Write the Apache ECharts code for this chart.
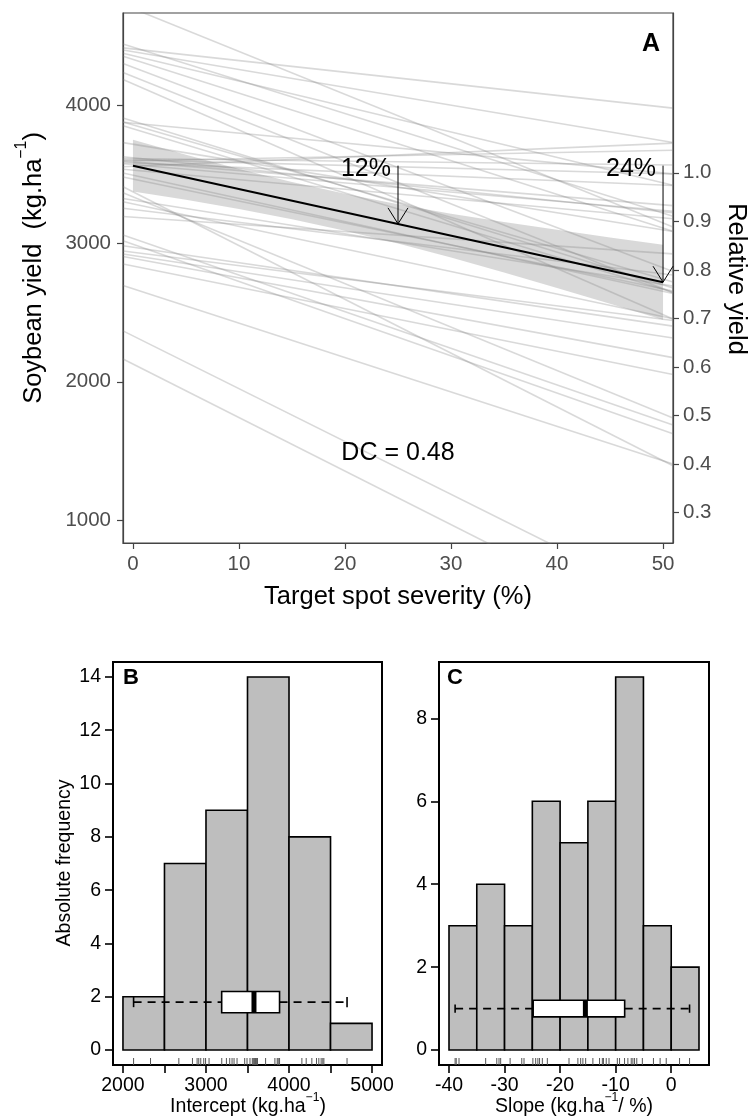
<!DOCTYPE html>
<html><head><meta charset="utf-8">
<script src="https://cdn.jsdelivr.net/npm/echarts@6/dist/echarts.min.js"></script>
<style>html,body{margin:0;padding:0;background:#fff}#c{width:749px;height:1117px}</style>
</head><body><div id="c"></div>
<script>
// ---------- DATA ----------
// Individual study regressions (intercept kg/ha at 0% severity, slope kg/ha per %)
const lineIntercepts = [2128,2332,2673,2837,2893,2913,2937,2973,2995,3037,3190,3246,3286,3314,3338,3374,3466,3494,3530,3558,3570,3582,3590,3598,3605,3614,3620,3718,3830,3858,3870,3886,4155,4207,4275,4331,4359,4387,4407,4420,4699];
const lineSlopes     = [-38.7,-38.2,-24.9,-15.4,-14.1,-11.7,-9.7,-11.2,-26.9,-26.5,-5.2,-9.3,-16.3,-12.2,-31.4,-38.9,-15.9,-16.8,-6.9,3.3,-6.6,-3.2,-6.2,1.5,-2.0,-0.9,-7.8,-12.4,-23.2,-22.3,-7.2,-23.7,-33.4,-30.7,-29.0,-24.4,-18.4,-12.9,-8.4,-24.0,-31.0];
// Mean (population) line and its confidence band
const meanX = [0, 50];
const meanY = [3563, 2720];
const bandX     = [0,5,10,15,20,25,30,35,40,45,50];
const bandLower = [3376,3316,3250,3176,3093,3000,2898,2791,2679,2565,2449];
const bandUpper = [3750,3642,3539,3444,3359,3284,3216,3155,3099,3043,2991];
// Arrows for yield loss
const arrowX = [25, 50];
const arrowFrom = [3563, 3563];
const arrowTo = [3142, 2720];
const arrowLabels = ['12%', '24%'];
const relativeBase = 3511; // yield that corresponds to relative yield 1.0
// Axis ticks
const xTicksA = [0,10,20,30,40,50];
const yTicksA = [1000,2000,3000,4000];
const yTicksRel = [0.3,0.4,0.5,0.6,0.7,0.8,0.9,1.0];
// Histogram B (intercept)
const histBEdges = [2000,2500,3000,3500,4000,4500,5000];
const histBCounts = [2,7,9,14,8,1];
const boxB = [2128, 3189, 3578, 3886, 4699]; // min, q1, median, q3, max
const xTicksB = [2000,2500,3000,3500,4000,4500,5000];
const xLabelsB = [2000,3000,4000,5000];
const yTicksB = [0,2,4,6,8,10,12,14];
// Histogram C (slope)
const histCEdges = [-40,-35,-30,-25,-20,-15,-10,-5,0,5];
const histCCounts = [3,4,3,6,5,6,9,3,2];
const boxC = [-38.9, -24.85, -15.45, -8.38, 3.3];
const xTicksC = [-40,-30,-20,-10,0];
const yTicksC = [0,2,4,6,8];

// ---------- CHART ----------
const FONT = 'Liberation Sans';
const X_MIN = -0.94, X_MAX = 50.94, Y_MIN = 834, Y_MAX = 4667;
const chart = echarts.init(document.getElementById('c'), null, {renderer:'canvas'});
const plain = function(v){ return String(Math.round(v)); };

const series = [];
// confidence band
series.push({
  type:'custom', xAxisIndex:0, yAxisIndex:0, clip:true, silent:true, z:1,
  data:[[0,0]],
  renderItem:function(params, api){
    const pts = [];
    for (let i=0;i<bandX.length;i++) pts.push(api.coord([bandX[i], bandUpper[i]]));
    for (let i=bandX.length-1;i>=0;i--) pts.push(api.coord([bandX[i], bandLower[i]]));
    return {type:'polygon', shape:{points:pts}, style:{fill:'rgba(130,130,130,0.30)', stroke:null}};
  }
});
// individual lines
lineIntercepts.forEach(function(b0, i){
  const b1 = lineSlopes[i];
  series.push({
    type:'line', xAxisIndex:0, yAxisIndex:0, silent:true, showSymbol:false, symbol:'none', z:2,
    lineStyle:{color:'rgba(130,130,130,0.30)', width:1.6},
    data:[[X_MIN, b0 + b1*X_MIN],[X_MAX, b0 + b1*X_MAX]],
    animation:false
  });
});
// mean line
series.push({
  type:'line', xAxisIndex:0, yAxisIndex:0, silent:true, showSymbol:false, symbol:'none', z:5,
  lineStyle:{color:'#000', width:2},
  data: meanX.map(function(x,i){return [x, meanY[i]];})
});
// arrows
series.push({
  type:'custom', xAxisIndex:0, yAxisIndex:0, clip:false, silent:true, z:6,
  data: arrowX.map(function(x,i){return [x, arrowFrom[i], arrowTo[i]];}),
  renderItem:function(params, api){
    const idx = params.dataIndex;
    const p0 = api.coord([api.value(0), api.value(1)]);
    const p1 = api.coord([api.value(0), api.value(2)]);
    return {type:'group', children:[
      {type:'line', shape:{x1:p0[0], y1:p0[1], x2:p1[0], y2:p1[1]}, style:{stroke:'#000', lineWidth:1}},
      {type:'polyline', shape:{points:[[p1[0]-10,p1[1]-16],[p1[0],p1[1]],[p1[0]+10,p1[1]-16]]}, style:{stroke:'#000', lineWidth:1, fill:null}},
      {type:'text', style:{text:arrowLabels[idx], x:p0[0]-7, y:p0[1]+3, align:'right', verticalAlign:'middle', fontSize:25, fontFamily:FONT, fill:'#000'}}
    ]};
  }
});

function histSeries(xi, yi, edges, counts){
  return {
    type:'custom', xAxisIndex:xi, yAxisIndex:yi, clip:false, silent:true, z:2,
    data: counts.map(function(c,i){return [edges[i], edges[i+1], c];}),
    encode:{x:[0,1], y:2},
    renderItem:function(params, api){
      const p0 = api.coord([api.value(0), 0]);
      const p1 = api.coord([api.value(1), api.value(2)]);
      return {type:'rect', shape:{x:p0[0], y:p1[1], width:p1[0]-p0[0], height:p0[1]-p1[1]},
        style:{fill:'#BEBEBE', stroke:'#000', lineWidth:1.6}};
    }
  };
}
function rugSeries(xi, yi, values){
  return {
    type:'custom', xAxisIndex:xi, yAxisIndex:yi, clip:false, silent:true, z:3,
    data: values.map(function(v){return [v, 0];}),
    renderItem:function(params, api){
      const p = api.coord([api.value(0), 0]);
      const bottom = params.coordSys.y + params.coordSys.height;
      return {type:'line', shape:{x1:p[0], y1:bottom, x2:p[0], y2:bottom-7}, style:{stroke:'#555', lineWidth:1}};
    }
  };
}
function boxSeries(xi, yi, stats, yc, halfH, capH){
  return {
    type:'custom', xAxisIndex:xi, yAxisIndex:yi, clip:false, silent:true, z:4,
    data:[stats],
    renderItem:function(params, api){
      const s = [0,1,2,3,4].map(function(k){return api.value(k);});
      const pMin = api.coord([s[0], yc]), pQ1 = api.coord([s[1], yc]), pMed = api.coord([s[2], yc]);
      const pQ3 = api.coord([s[3], yc]), pMax = api.coord([s[4], yc]);
      const top = api.coord([s[1], yc+halfH])[1], bot = api.coord([s[1], yc-halfH])[1];
      const cTop = api.coord([s[0], yc+capH])[1], cBot = api.coord([s[0], yc-capH])[1];
      const y = pMin[1];
      const ls = {stroke:'#000', lineWidth:1.6};
      return {type:'group', children:[
        {type:'line', shape:{x1:pMin[0], y1:y, x2:pQ1[0], y2:y}, style:{stroke:'#000', lineWidth:1.6, lineDash:[8,6]}},
        {type:'line', shape:{x1:pQ3[0], y1:y, x2:pMax[0], y2:y}, style:{stroke:'#000', lineWidth:1.6, lineDash:[8,6]}},
        {type:'line', shape:{x1:pMin[0], y1:cTop, x2:pMin[0], y2:cBot}, style:ls},
        {type:'line', shape:{x1:pMax[0], y1:cTop, x2:pMax[0], y2:cBot}, style:ls},
        {type:'rect', shape:{x:pQ1[0], y:top, width:pQ3[0]-pQ1[0], height:bot-top}, style:{fill:'#fff', stroke:'#000', lineWidth:1.6}},
        {type:'line', shape:{x1:pMed[0], y1:top, x2:pMed[0], y2:bot}, style:{stroke:'#000', lineWidth:5}}
      ]};
    }
  };
}
series.push(histSeries(1, 2, histBEdges, histBCounts));
series.push(rugSeries(1, 2, lineIntercepts));
series.push(boxSeries(1, 2, boxB, 1.8, 0.4, 0.19));
series.push(histSeries(2, 3, histCEdges, histCCounts));
series.push(rugSeries(2, 3, lineSlopes));
series.push(boxSeries(2, 3, boxC, 1.0, 0.2, 0.1));

const grayLabel = {fontSize:20.5, color:'#4d4d4d', fontFamily:FONT};
const blackLabel = {fontSize:19.5, color:'#000', fontFamily:FONT};

function titleRich(pre, post, size){
  return {
    text:'{n|'+pre+'}{s|−1}{n|'+post+'}',
    rich:{
      n:{fontSize:size, fontFamily:FONT, fill:'#000', color:'#000', lineHeight:size*1.3, verticalAlign:'bottom'},
      s:{fontSize:size*0.62, fontFamily:FONT, fill:'#000', color:'#000', lineHeight:size*0.7, verticalAlign:'top'}
    }
  };
}

const option = {
  animation:false,
  backgroundColor:'#fff',
  grid:[
    {left:123, top:13, width:550, height:530, show:true, borderColor:'#444', borderWidth:1.2, backgroundColor:'transparent', containLabel:false},
    {left:113, top:662, width:269, height:403, show:true, borderColor:'#000', borderWidth:2, backgroundColor:'transparent', containLabel:false},
    {left:439, top:662, width:270, height:403, show:true, borderColor:'#000', borderWidth:2, backgroundColor:'transparent', containLabel:false}
  ],
  xAxis:[
    {gridIndex:0, type:'value', min:X_MIN, max:X_MAX,
     axisLine:{show:true, onZero:false, lineStyle:{color:'#444', width:1.2}},
     axisTick:{show:true, customValues:xTicksA, length:6, lineStyle:{color:'#444', width:1.2}},
     axisLabel:Object.assign({customValues:xTicksA, margin:11, formatter:plain}, grayLabel),
     splitLine:{show:false}},
    {gridIndex:1, type:'value', min:1880, max:5120,
     axisLine:{show:true, onZero:false, lineStyle:{color:'#000', width:2}},
     axisTick:{show:true, customValues:xTicksB, length:8, lineStyle:{color:'#000', width:1.6}},
     axisLabel:Object.assign({customValues:xLabelsB, margin:11, formatter:plain}, blackLabel),
     splitLine:{show:false}},
    {gridIndex:2, type:'value', min:-41.8, max:6.8,
     axisLine:{show:true, onZero:false, lineStyle:{color:'#000', width:2}},
     axisTick:{show:true, customValues:xTicksC, length:8, lineStyle:{color:'#000', width:1.6}},
     axisLabel:Object.assign({customValues:xTicksC, margin:11, formatter:plain}, blackLabel),
     splitLine:{show:false}}
  ],
  yAxis:[
    {gridIndex:0, type:'value', min:Y_MIN, max:Y_MAX, position:'left',
     axisLine:{show:true, onZero:false, lineStyle:{color:'#444', width:1.2}},
     axisTick:{show:true, customValues:yTicksA, length:6, lineStyle:{color:'#444', width:1.2}},
     axisLabel:Object.assign({customValues:yTicksA, margin:12, formatter:plain}, grayLabel),
     splitLine:{show:false}},
    {gridIndex:0, type:'value', min:Y_MIN/relativeBase, max:Y_MAX/relativeBase, position:'right',
     axisLine:{show:true, onZero:false, lineStyle:{color:'#444', width:1.2}},
     axisTick:{show:true, customValues:yTicksRel, length:6, lineStyle:{color:'#444', width:1.2}},
     axisLabel:Object.assign({customValues:yTicksRel, margin:10, formatter:function(v){return Number(v).toFixed(1);}}, grayLabel),
     splitLine:{show:false}},
    {gridIndex:1, type:'value', min:-0.56, max:14.56,
     axisLine:{show:true, onZero:false, lineStyle:{color:'#000', width:2}},
     axisTick:{show:true, customValues:yTicksB, length:8, lineStyle:{color:'#000', width:1.6}},
     axisLabel:Object.assign({customValues:yTicksB, margin:12, formatter:plain}, blackLabel),
     splitLine:{show:false}},
    {gridIndex:2, type:'value', min:-0.36, max:9.36,
     axisLine:{show:true, onZero:false, lineStyle:{color:'#000', width:2}},
     axisTick:{show:true, customValues:yTicksC, length:8, lineStyle:{color:'#000', width:1.6}},
     axisLabel:Object.assign({customValues:yTicksC, margin:12, formatter:plain}, blackLabel),
     splitLine:{show:false}}
  ],
  series: series,
  graphic:[
    {type:'text', x:651, y:44, z:100, style:{text:'A', fontSize:25, fontWeight:'bold', fontFamily:FONT, fill:'#000', align:'center', verticalAlign:'middle'}},
    {type:'text', x:398, y:453, z:100, style:{text:'DC = 0.48', fontSize:25, fontFamily:FONT, fill:'#000', align:'center', verticalAlign:'middle'}},
    {type:'text', x:398, y:597, z:100, style:{text:'Target spot severity (%)', fontSize:25.5, fontFamily:FONT, fill:'#000', align:'center', verticalAlign:'middle'}},
    {type:'text', x:736, y:279, rotation:-Math.PI/2, z:100, style:{text:'Relative yield', fontSize:25.5, fontFamily:FONT, fill:'#000', align:'center', verticalAlign:'middle'}},
    {type:'text', x:30, y:268, rotation:Math.PI/2, z:100, style:Object.assign(titleRich('Soybean yield  (kg.ha', ')', 25.5), {align:'center', verticalAlign:'middle'})},
    {type:'text', x:131, y:678, z:100, style:{text:'B', fontSize:22, fontWeight:'bold', fontFamily:FONT, fill:'#000', align:'center', verticalAlign:'middle'}},
    {type:'text', x:455, y:678, z:100, style:{text:'C', fontSize:22, fontWeight:'bold', fontFamily:FONT, fill:'#000', align:'center', verticalAlign:'middle'}},
    {type:'text', x:65, y:863, rotation:Math.PI/2, z:100, style:{text:'Absolute frequency', fontSize:19.5, fontFamily:FONT, fill:'#000', align:'center', verticalAlign:'middle'}},
    {type:'text', x:248, y:1104, z:100, style:Object.assign(titleRich('Intercept (kg.ha', ')', 19.5), {align:'center', verticalAlign:'middle'})},
    {type:'text', x:574, y:1104, z:100, style:Object.assign(titleRich('Slope (kg.ha', '/ %)', 19.5), {align:'center', verticalAlign:'middle'})}
  ]
};
chart.setOption(option);
</script>
</body></html>
